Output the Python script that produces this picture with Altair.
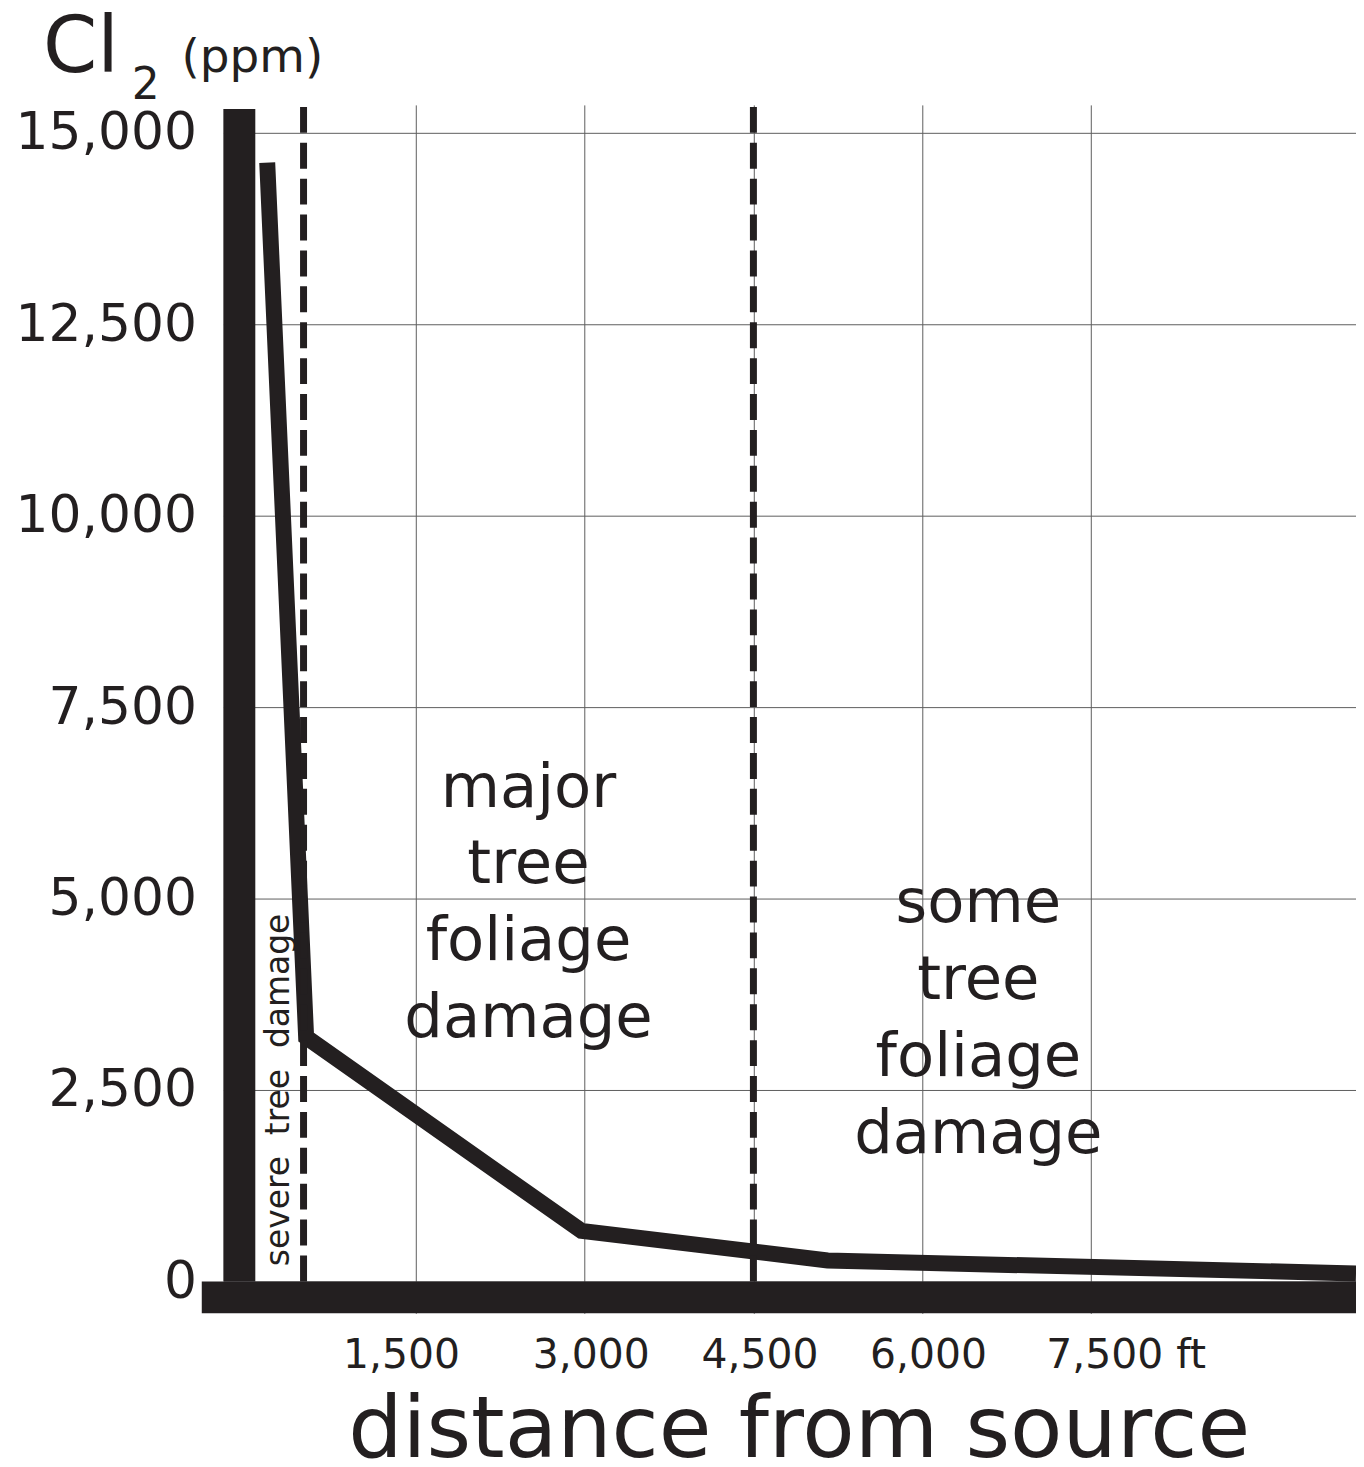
import altair as alt
import pandas as pd

# ---- data ----
distance_ft = [177, 523, 2970, 5160, 9858]
cl2_ppm = [14610, 3190, 660, 273, 104]

y_ticks = [0, 2500, 5000, 7500, 10000, 12500, 15000]
x_ticks = [1500, 3000, 4500, 6000, 7500]

zone_edges_ft = [500, 4500]
zone_labels = ["severe\u00a0 tree\u00a0 damage", "major\ntree\nfoliage\ndamage", "some\ntree\nfoliage\ndamage"]
zone_label_x = [372, 2500, 6500]
zone_label_y = [2500, 6200, 4690]

# heavy axis bars (data units)
bar_x0 = [-405, -213]
bar_x1 = [9858, 71]
bar_y0 = [-417, 0]
bar_y1 = [0, 15313]

INK = "#231f20"
FONT = "DejaVu Sans"

X_DOM = [-213, 9858]
Y_DOM = [-417, 15365]

xs = alt.Scale(domain=X_DOM, nice=False, zero=False)
ys = alt.Scale(domain=Y_DOM, nice=False, zero=False)

line_df = pd.DataFrame({"d": distance_ft, "c": cl2_ppm})
bars_df = pd.DataFrame({"x0": bar_x0, "x1": bar_x1, "y0": bar_y0, "y1": bar_y1})
edges_df = pd.DataFrame({"e": zone_edges_ft, "top": [15339, 15339], "bot": [0, 0]})
zones_df = pd.DataFrame({"t": zone_labels, "x": zone_label_x, "y": zone_label_y})

x_axis = alt.Axis(
    values=x_ticks,
    grid=True, gridColor="#5e5e5e", gridWidth=1,
    domain=False, ticks=False,
    format=",d",
    labelExpr="datum.value == 7500 ? datum.label + ' ft' : datum.label",
    labelFont=FONT, labelFontSize=41, labelColor=INK,
    labelPadding=22, labelLimit=400,
    labelOffset={"condition": [
        {"test": "datum.value == 1500", "value": -15},
        {"test": "datum.value == 7500", "value": 35}],
        "value": 6},
    title="distance from source",
    titleFont=FONT, titleFontSize=86, titleFontWeight="normal", titleColor=INK,
    titleX=577, titleY=144, titleBaseline="alphabetic", titleAlign="center",
    titleLimit=1300,
)
y_axis = alt.Axis(
    values=y_ticks,
    grid=True, gridColor="#5e5e5e", gridWidth=1,
    domain=False, ticks=False,
    format=",d",
    labelFont=FONT, labelFontSize=52, labelColor=INK,
    labelPadding=27, labelLimit=400,
    title=None,
)

main = alt.Chart(line_df).mark_line(
    color=INK, strokeWidth=16, strokeJoin="miter", strokeCap="butt"
).encode(
    x=alt.X("d:Q", scale=xs, axis=x_axis),
    y=alt.Y("c:Q", scale=ys, axis=y_axis),
    order="d:Q",
)

bars = alt.Chart(bars_df).mark_rect(color=INK).encode(
    x=alt.X("x0:Q", scale=xs, axis=x_axis), x2="x1:Q",
    y=alt.Y("y0:Q", scale=ys, axis=y_axis), y2="y1:Q",
)

edges = alt.Chart(edges_df).mark_rule(
    color=INK, strokeWidth=7, strokeDash=[26, 10], strokeCap="butt"
).encode(
    x=alt.X("e:Q", scale=xs, axis=x_axis),
    y=alt.Y("top:Q", scale=ys, axis=y_axis), y2="bot:Q",
)

severe = alt.Chart(zones_df.iloc[[0]]).mark_text(
    font=FONT, fontSize=33, color=INK, angle=270, align="center", baseline="alphabetic"
).encode(
    x=alt.X("x:Q", scale=xs, axis=x_axis),
    y=alt.Y("y:Q", scale=ys, axis=y_axis),
    text="t:N",
)

zones = alt.Chart(zones_df.iloc[[1, 2]]).mark_text(
    font=FONT, fontSize=61, color=INK, align="center", baseline="alphabetic",
    lineBreak="\n", lineHeight=77,
).encode(
    x=alt.X("x:Q", scale=xs, axis=x_axis),
    y=alt.Y("y:Q", scale=ys, axis=y_axis),
    text="t:N",
)

t_cl = alt.Chart(pd.DataFrame({"t": ["Cl"]})).mark_text(
    font=FONT, fontSize=78, color=INK, align="left", baseline="alphabetic"
).encode(x=alt.value(-181), y=alt.value(-33), text="t:N")
t_sub = alt.Chart(pd.DataFrame({"t": ["2"]})).mark_text(
    font=FONT, fontSize=44, color=INK, align="left", baseline="alphabetic"
).encode(x=alt.value(-92), y=alt.value(-6), text="t:N")
t_unit = alt.Chart(pd.DataFrame({"t": ["(ppm)"]})).mark_text(
    font=FONT, fontSize=47, color=INK, align="left", baseline="alphabetic"
).encode(x=alt.value(-42), y=alt.value(-33), text="t:N")

chart = alt.layer(main, edges, bars, severe, zones, t_cl, t_sub, t_unit).properties(
    width=1136, height=1212,
    padding={"left": 216, "top": 95, "right": 0, "bottom": 170},
    autosize="none",
    background="white",
).configure_view(stroke=None)

chart.save("out.html", embed_options={"renderer": "svg", "actions": False})
